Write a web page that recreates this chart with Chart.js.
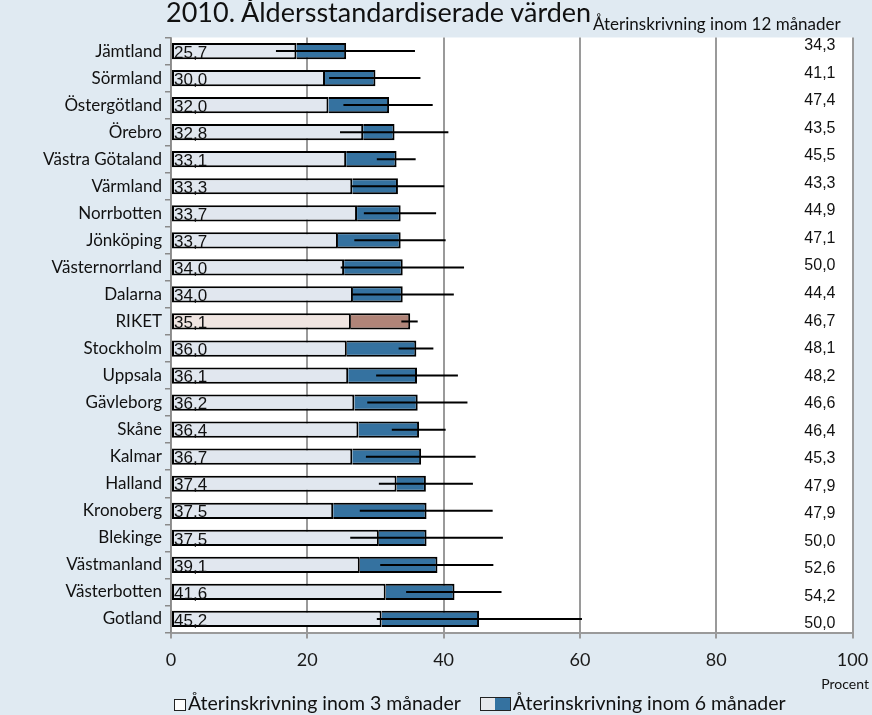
<!DOCTYPE html>
<html>
<head>
<meta charset="utf-8">
<script src="https://cdn.jsdelivr.net/npm/chart.js@4.4.1/dist/chart.umd.min.js"></script>
<style>
  html, body { margin: 0; padding: 0; background: #e0eaf2; }
  #wrap { position: relative; width: 872px; height: 715px; overflow: hidden; font-family: Lato, sans-serif; }
  #wrap canvas { position: absolute; left: 0; top: 0; }
  .txt { position: absolute; white-space: nowrap; color: #111; }
  #title { left: 166px; top: -5px; font-size: 27px; }
  #head12 { left: 593px; top: 13px; font-size: 17px; }
  #procent { right: 3px; top: 675px; font-size: 14px; }
  #legend { left: 174px; top: 691px; font-size: 19.5px; }
  .box3 { display: inline-block; width: 10px; height: 10px; border: 1.5px solid #222; background: #fff; vertical-align: -1px; margin-right: 2px; }
  .box6 { display: inline-block; width: 29px; height: 12px; border: 1.5px solid #222; vertical-align: -1px; margin-left: 19px; margin-right: 2px;
          background: linear-gradient(to right, #e6e8ec 50%, #3572a0 50%); }
</style>
</head>
<body>
<div id="wrap">
  <canvas id="chart"></canvas>
  <div class="txt" id="title">2010. Åldersstandardiserade värden</div>
  <div class="txt" id="head12">Återinskrivning inom 12 månader</div>
  <div class="txt" id="procent">Procent</div>
  <div class="txt" id="legend"><span class="box3"></span>Återinskrivning inom 3 månader<span class="box6"></span>Återinskrivning inom 6 månader</div>
</div>
<script>
// Återinskrivning, procent, uppifrån och ned
const regions = ['Jämtland', 'Sörmland', 'Östergötland', 'Örebro', 'Västra Götaland', 'Värmland',
  'Norrbotten', 'Jönköping', 'Västernorrland', 'Dalarna', 'RIKET', 'Stockholm', 'Uppsala',
  'Gävleborg', 'Skåne', 'Kalmar', 'Halland', 'Kronoberg', 'Blekinge', 'Västmanland',
  'Västerbotten', 'Gotland'];
const threeMonths = [18.4, 22.6, 23.1, 28.2, 25.7, 26.6, 27.3, 24.5, 25.4, 26.7, 26.4,
  25.8, 26.0, 26.9, 27.5, 26.6, 33.1, 23.8, 30.5, 27.7, 31.5, 30.9];
const sixMonths = [25.7, 30.0, 32.0, 32.8, 33.1, 33.3, 33.7, 33.7, 34.0, 34.0, 35.1,
  36.0, 36.1, 36.2, 36.4, 36.7, 37.4, 37.5, 37.5, 39.1, 41.6, 45.2];
const ciLow = [15.4, 23.2, 25.3, 24.8, 30.2, 26.4, 28.3, 26.9, 24.9, 26.5, 33.8,
  33.4, 30.1, 28.8, 32.4, 28.6, 30.5, 27.7, 26.3, 30.7, 34.5, 30.2];
const ciHigh = [35.8, 36.6, 38.4, 40.7, 35.9, 40.1, 38.9, 40.3, 43.0, 41.5, 36.2,
  38.5, 42.1, 43.5, 40.3, 44.7, 44.3, 47.2, 48.7, 47.3, 48.5, 60.3];
const twelveMonths = [34.3, 41.1, 47.4, 43.5, 45.5, 43.3, 44.9, 47.1, 50.0, 44.4, 46.7,
  48.1, 48.2, 46.6, 46.4, 45.3, 47.9, 47.9, 50.0, 52.6, 54.2, 50.0];
const xTicks = [0, 20, 40, 60, 80, 100];

const fmt = v => v.toFixed(1).replace('.', ',');
const isRiket = r => r === 'RIKET';

const lightCols = regions.map(r => isRiket(r) ? '#f0e5e1' : '#e1e7ef');
const darkCols = regions.map(r => isRiket(r) ? '#b08478' : '#3572a0');

// the 12-month column sits on its own row grid, a bit looser than the bars
const rowMin = -0.30, rowMax = 21.31;
function rowPixel(area, i) {
  return area.top + (i - rowMin) / (rowMax - rowMin) * (area.bottom - area.top);
}

// white plot area
const plotBg = {
  id: 'plotBg',
  beforeDraw(chart) {
    const { ctx, chartArea: a } = chart;
    ctx.save();
    ctx.fillStyle = '#ffffff';
    ctx.fillRect(a.left, a.top, a.right - a.left, a.bottom - a.top);
    ctx.restore();
  }
};

// confidence lines, value labels and 12-month column
const extras = {
  id: 'extras',
  afterDatasetsDraw(chart) {
    const { ctx, scales, chartArea } = chart;
    const x = scales.x, y = scales.y;
    ctx.save();
    ctx.strokeStyle = '#000';
    ctx.lineWidth = 2;
    regions.forEach((r, i) => {
      const py = y.getPixelForValue(i);
      ctx.beginPath();
      ctx.moveTo(x.getPixelForValue(ciLow[i]), py);
      ctx.lineTo(x.getPixelForValue(ciHigh[i]), py);
      ctx.stroke();
    });
    ctx.fillStyle = '#111';
    ctx.font = '17px "Liberation Sans", Arial, sans-serif';
    ctx.textBaseline = 'middle';
    ctx.textAlign = 'left';
    regions.forEach((r, i) => {
      ctx.fillText(fmt(sixMonths[i]), x.getPixelForValue(0) + 3, y.getPixelForValue(i) + 2);
    });
    ctx.font = '16px "Liberation Sans", Arial, sans-serif';
    ctx.textAlign = 'right';
    regions.forEach((r, i) => {
      ctx.fillText(fmt(twelveMonths[i]), x.getPixelForValue(100) - 17, rowPixel(chartArea, i));
    });
    ctx.restore();
  }
};

new Chart(document.getElementById('chart'), {
  type: 'bar',
  data: {
    labels: regions,
    datasets: [
      {
        label: 'Återinskrivning inom 3 månader',
        data: threeMonths.map(v => [0, v]),
        backgroundColor: lightCols,
        borderColor: '#000',
        borderWidth: 2,
        borderSkipped: false,
        grouped: false,
        barPercentage: 0.6,
        categoryPercentage: 1
      },
      {
        label: 'Återinskrivning inom 6 månader',
        data: threeMonths.map((v, i) => [v, sixMonths[i]]),
        backgroundColor: darkCols,
        borderColor: '#000',
        borderWidth: 2,
        borderSkipped: 'start',
        grouped: false,
        barPercentage: 0.6,
        categoryPercentage: 1
      }
    ]
  },
  options: {
    indexAxis: 'y',
    responsive: true,
    maintainAspectRatio: false,
    animation: false,
    layout: { padding: { top: 37.5, right: 19.5, left: 0, bottom: 0 } },
    plugins: {
      legend: { display: false },
      tooltip: { enabled: false }
    },
    scales: {
      x: {
        type: 'linear',
        min: 0,
        max: 100,
        afterBuildTicks: axis => { axis.ticks = xTicks.map(v => ({ value: v })); },
        afterFit: axis => {
          axis.height = 82.5;
          axis.paddingLeft = 0;
          axis.paddingRight = 0;
        },
        grid: { color: '#9a9a9a', lineWidth: 2, tickLength: 6 },
        border: { color: '#9a9a9a', width: 2 },
        ticks: { color: '#1a1a1a', font: { family: 'Lato', size: 18 }, padding: 11 }
      },
      y: {
        type: 'category',
        afterFit: axis => { axis.width = 171; },
        grid: { drawOnChartArea: false, drawTicks: true, tickLength: 6, color: '#8a8a8a', lineWidth: 1.5, offset: true },
        border: { color: '#8a8a8a', width: 1.5 },
        ticks: { color: '#111', font: { family: 'Lato', size: 17 }, padding: 3 }
      }
    }
  },
  plugins: [plotBg, extras]
});
</script>
</body>
</html>
